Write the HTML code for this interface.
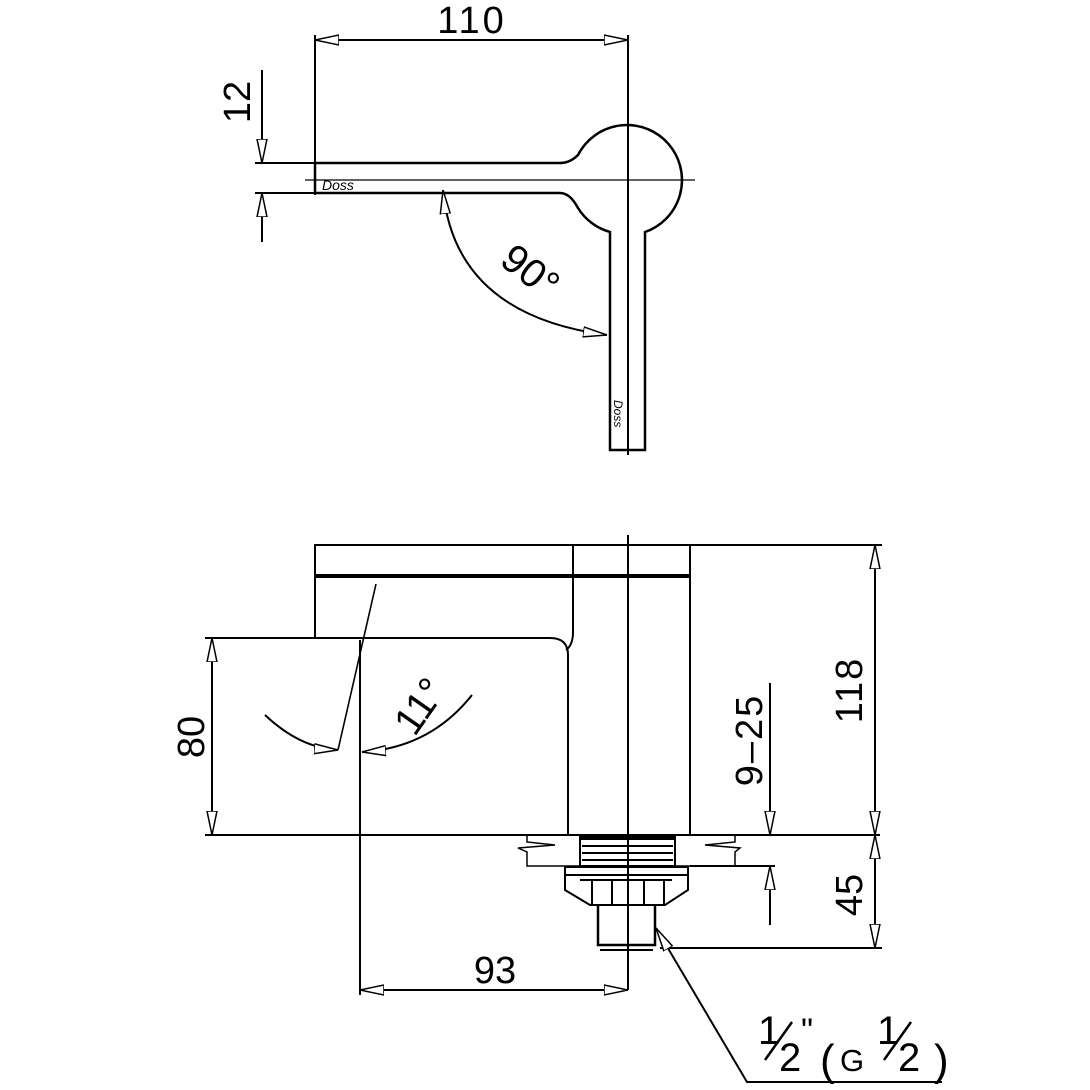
<!DOCTYPE html>
<html><head><style>
html,body{margin:0;padding:0;background:#fff;}
svg{display:block;}
text{font-family:"Liberation Sans",sans-serif;fill:#000;}
</style></head><body>
<svg width="1090" height="1090" viewBox="0 0 1090 1090" xmlns="http://www.w3.org/2000/svg">
<defs>
<marker id="a" viewBox="0 0 24 12" refX="24" refY="6" markerWidth="24" markerHeight="12" markerUnits="userSpaceOnUse" orient="auto-start-reverse">
<path d="M0,1 L24,6 L0,11 Z" fill="#fff" stroke="#000" stroke-width="1.5"/>
</marker>
</defs>
<g fill="none" stroke="#000" stroke-width="2">
<line x1="315" y1="35" x2="315" y2="195"/>
<line x1="628" y1="35" x2="628" y2="455"/>
<line x1="315" y1="40" x2="628" y2="40" marker-start="url(#a)" marker-end="url(#a)"/>
<path d="M315,163 L560,163 Q570,163 578,155 A55,55 0 1 1 645,232 L645,450 L610,450 L610,232 A55,55 0 0 1 578,208 Q570,193 560,193 L315,193 Z" stroke-width="2.5"/>
<line x1="305" y1="180" x2="695" y2="180" stroke-width="1.2"/>
<text x="322" y="190" font-size="14" font-style="italic" stroke="none">Doss</text>
<text x="0" y="0" font-size="12" font-style="italic" stroke="none" transform="translate(614,400) rotate(90)">Doss</text>
<line x1="255" y1="163" x2="315" y2="163"/>
<line x1="255" y1="193" x2="315" y2="193"/>
<line x1="262" y1="70" x2="262" y2="163" marker-end="url(#a)"/>
<line x1="262" y1="242" x2="262" y2="193" marker-end="url(#a)"/>
<path d="M443,190 Q455,315 607,335" marker-start="url(#a)" marker-end="url(#a)"/>
<rect x="315" y="545" width="375" height="32"/>
<line x1="315" y1="576" x2="690" y2="576" stroke-width="4"/>
<line x1="315" y1="577" x2="315" y2="638"/>
<line x1="573" y1="545" x2="573" y2="632"/>
<path d="M573,632 Q573,645 566,650"/>
<line x1="690" y1="577" x2="690" y2="835"/>
<path d="M205,638 L550,638 Q568,638 568,655 L568,835"/>
<line x1="205" y1="835" x2="880" y2="835"/>
<line x1="628" y1="535" x2="628" y2="990"/>
<line x1="212" y1="740" x2="212" y2="638" marker-end="url(#a)"/>
<line x1="212" y1="740" x2="212" y2="835" marker-end="url(#a)"/>
<line x1="360" y1="640" x2="360" y2="995"/>
<line x1="360" y1="990" x2="628" y2="990" marker-start="url(#a)" marker-end="url(#a)"/>
<line x1="376" y1="584" x2="338" y2="750" stroke-width="1.6"/>
<path d="M265,715 Q300,748 338,750" marker-end="url(#a)"/>
<path d="M472,695 Q430,748 362,752" marker-end="url(#a)"/>
<line x1="690" y1="545" x2="882" y2="545"/>
<line x1="875" y1="690" x2="875" y2="545" marker-end="url(#a)"/>
<line x1="875" y1="690" x2="875" y2="835" marker-end="url(#a)"/>
<line x1="875" y1="890" x2="875" y2="835" marker-end="url(#a)"/>
<line x1="875" y1="890" x2="875" y2="948" marker-end="url(#a)"/>
<line x1="660" y1="948" x2="882" y2="948"/>
<line x1="770" y1="683" x2="770" y2="835" marker-end="url(#a)"/>
<line x1="770" y1="925" x2="770" y2="866" marker-end="url(#a)"/>
<line x1="690" y1="866" x2="775" y2="866"/>
<path d="M580,866 L527,866 L527,852 L518,848 L555,845 L527,842 L527,836" stroke-width="1.5"/>
<path d="M675,866 L735,866 L735,852 L740,848 L705,845 L735,842 L735,836" stroke-width="1.5"/>
<rect x="580" y="836" width="95" height="30"/>
<line x1="580" y1="838" x2="675" y2="838" stroke-width="4"/>
<line x1="582" y1="846" x2="673" y2="846"/>
<line x1="582" y1="853" x2="673" y2="853"/>
<line x1="582" y1="860" x2="673" y2="860"/>
<path d="M565,867 L688,867 L688,890 L665,905 L590,905 L565,890 Z"/>
<line x1="565" y1="875" x2="688" y2="875"/>
<line x1="580" y1="880" x2="672" y2="880"/>
<line x1="592" y1="880" x2="592" y2="905"/>
<line x1="612" y1="880" x2="612" y2="905"/>
<line x1="644" y1="880" x2="644" y2="905"/>
<line x1="664" y1="880" x2="664" y2="905"/>
<path d="M598,905 L598,945 L655,945 L655,905" stroke-width="2.5"/>
<line x1="600" y1="950" x2="653" y2="950"/>
<path d="M942,1082 L747,1082 L656,928" marker-end="url(#a)"/>
<line x1="765" y1="1060" x2="792" y2="1022" stroke-width="2.5"/>
<line x1="884" y1="1060" x2="911" y2="1022" stroke-width="2.5"/>
</g>
<text x="472" y="33" font-size="38" text-anchor="middle" letter-spacing="3">110</text>
<text font-size="38" text-anchor="middle" transform="translate(250,102) rotate(-90)">12</text>
<text font-size="40" text-anchor="middle" transform="translate(522,282) rotate(38)">90°</text>
<text font-size="38" text-anchor="middle" transform="translate(204,737) rotate(-90)">80</text>
<text font-size="40" text-anchor="middle" transform="translate(431,714) rotate(-55)">11°</text>
<text x="495" y="983" font-size="38" text-anchor="middle">93</text>
<text font-size="38" text-anchor="middle" letter-spacing="2" transform="translate(862,690) rotate(-90)">118</text>
<text font-size="38" text-anchor="middle" transform="translate(862,895) rotate(-90)">45</text>
<text font-size="38" text-anchor="middle" letter-spacing="2" transform="translate(762,740) rotate(-90)">9–25</text>
<text x="758" y="1044" font-size="40">1</text>
<text x="779" y="1071" font-size="40">2</text>
<text x="801" y="1042" font-size="34">"</text>
<text x="820" y="1075" font-size="44">(</text>
<text x="840" y="1071" font-size="31">G</text>
<text x="877" y="1044" font-size="40">1</text>
<text x="898" y="1071" font-size="40">2</text>
<text x="934" y="1075" font-size="44">)</text>
</svg>
</body></html>
